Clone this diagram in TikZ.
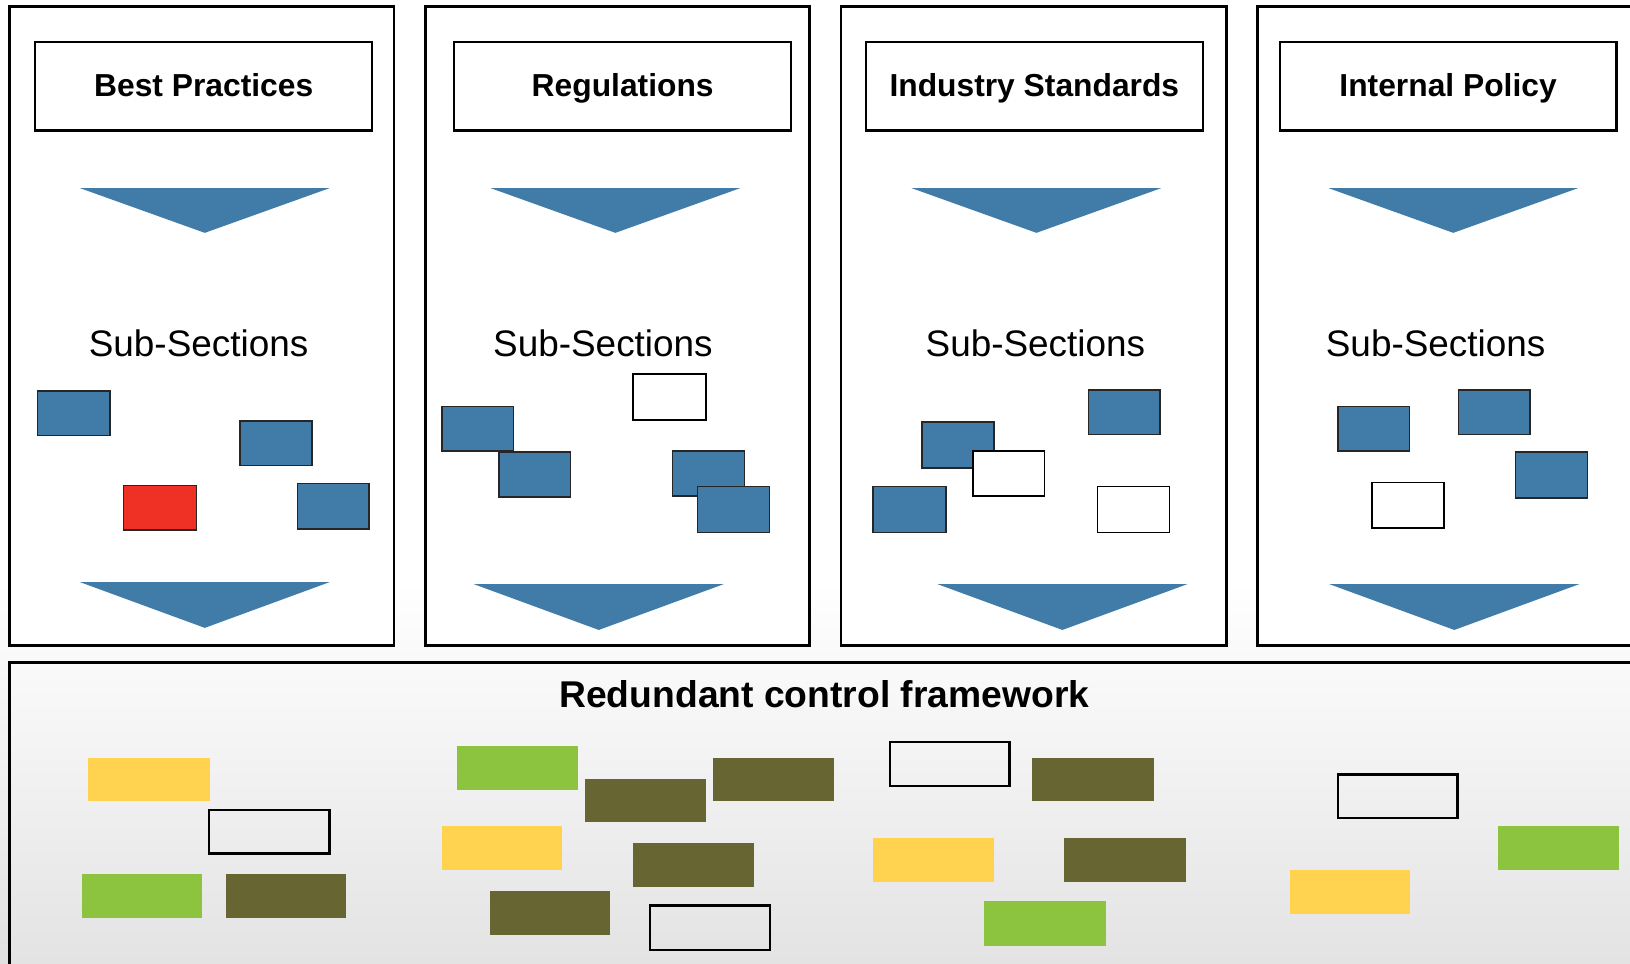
\documentclass[tikz,border=0pt]{standalone}
\usepackage{fontspec}
\setmainfont{Liberation Sans}
\usepackage{xcolor}
\usetikzlibrary{positioning}
\definecolor{secblue}{HTML}{417CA8}
\definecolor{secred}{HTML}{EE3124}
\definecolor{ctlyellow}{HTML}{FFD24F}
\definecolor{ctlgreen}{HTML}{8CC43F}
\definecolor{ctlolive}{HTML}{676633}
\tikzset{
  panel/.style={draw=black, line width=0.8pt, fill=white},
  titlebox/.style={draw=black, line width=0.6pt, fill=white, minimum width=32.4mm, minimum height=8.5mm,
    text height=1.6ex, text depth=0.5ex, font=\fontsize{8.7}{10}\selectfont\bfseries},
  subtitle/.style={font=\fontsize{10.1}{12}\selectfont},
  subbox/.style={draw=black!85, line width=0.4pt, fill=secblue},
  emptybox/.style={draw=black, line width=0.4pt, fill=white},
  ctlbox/.style={draw=black, line width=0.65pt},
}

\begin{document}
\begin{tikzpicture}[x=0.1mm, y=-0.1mm]
    \clip (0,0) rectangle (1568,927);
    % Background
    \fill[white] (0,0) rectangle (1568,927);
    \shade[top color=white, bottom color=black!12] (0,560) rectangle (1568,927);

    % Source panels
    \draw[panel] (9,6) rectangle (379,621);
    \draw[panel] (409,6) rectangle (779,621);
    \draw[panel] (809,6) rectangle (1180,621);
    \draw[panel] (1210,6) rectangle (1590,621);

    % Titles
    \node[titlebox] (best) at (196,83) {Best Practices};
    \node[titlebox] (regs) at (599,83) {Regulations};
    \node[titlebox] (indstd) at (995,83) {Industry Standards};
    \node[titlebox] (intpol) at (1393,83) {Internal Policy};

    % Arrows
    \fill[secblue] (77,181) -- (317,181) -- (197,224) -- cycle;
    \fill[secblue] (472,181) -- (712,181) -- (592,224) -- cycle;
    \fill[secblue] (877,181) -- (1117,181) -- (997,224) -- cycle;
    \fill[secblue] (1278,181) -- (1518,181) -- (1398,224) -- cycle;
    \fill[secblue] (77,560) -- (317,560) -- (197,604) -- cycle;
    \fill[secblue] (456,562) -- (696,562) -- (576,606) -- cycle;
    \fill[secblue] (902,562) -- (1142,562) -- (1022,606) -- cycle;
    \fill[secblue] (1279,562) -- (1519,562) -- (1399,606) -- cycle;

    % Sub-sections
    \node[subtitle] (subbest) at (191,330) {Sub-Sections};
    \node[subtitle] (subregs) at (580,330) {Sub-Sections};
    \node[subtitle] (subind) at (996,330) {Sub-Sections};
    \node[subtitle] (subint) at (1381,330) {Sub-Sections};

    \draw[subbox] (36,376) rectangle +(70,43); \draw[subbox] (231,405) rectangle +(69,43);
    \draw[subbox, fill=secred] (119,467) rectangle +(70,43); \draw[subbox] (286,465) rectangle +(69,44);

    \draw[subbox] (425,391) rectangle +(69,43); \draw[subbox] (480,435) rectangle +(69,43);
    \draw[emptybox] (609,360) rectangle +(70,44); \draw[subbox] (647,434) rectangle +(69,43);
    \draw[subbox] (671,468) rectangle +(69,44);

    \draw[subbox] (887,406) rectangle +(69,44); \draw[emptybox] (936,434) rectangle +(69,43);
    \draw[subbox] (1047,375) rectangle +(69,43); \draw[subbox] (840,468) rectangle +(70,44);
    \draw[emptybox] (1056,468) rectangle +(69,44);

    \draw[subbox] (1287,391) rectangle +(69,43); \draw[subbox] (1403,375) rectangle +(69,43);
    \draw[subbox] (1458,435) rectangle +(69,44); \draw[emptybox] (1320,464) rectangle +(69,44);

    % Control framework
    \shade[top color=black!2, bottom color=black!12, draw=black, line width=0.8pt] (9,637) rectangle (1600,960);
    \node[font=\fontsize{10.2}{12}\selectfont\bfseries] (framework) at (793,668) {Redundant control framework};

    \fill[ctlyellow] (85,729) rectangle +(117,42); \draw[ctlbox] (201,779) rectangle +(116,42);
    \fill[ctlgreen] (79,841) rectangle +(115,42); \fill[ctlolive] (217,841) rectangle +(116,42);

    \fill[ctlgreen] (440,718) rectangle +(116,42); \fill[ctlolive] (563,749) rectangle +(116,42);
    \fill[ctlolive] (686,729) rectangle +(116,42); \fill[ctlyellow] (425,795) rectangle +(116,42);
    \fill[ctlolive] (609,811) rectangle +(116,42); \fill[ctlolive] (471,857) rectangle +(116,42);
    \draw[ctlbox] (625,871) rectangle +(116,43);

    \draw[ctlbox] (856,714) rectangle +(115,42); \fill[ctlolive] (993,729) rectangle +(117,42);
    \fill[ctlyellow] (840,806) rectangle +(116,42); \fill[ctlolive] (1024,806) rectangle +(117,42);
    \fill[ctlgreen] (947,867) rectangle +(117,43);

    \draw[ctlbox] (1287,745) rectangle +(115,42); \fill[ctlgreen] (1441,795) rectangle +(116,42);
    \fill[ctlyellow] (1241,837) rectangle +(115,42);
\end{tikzpicture}
\end{document}
